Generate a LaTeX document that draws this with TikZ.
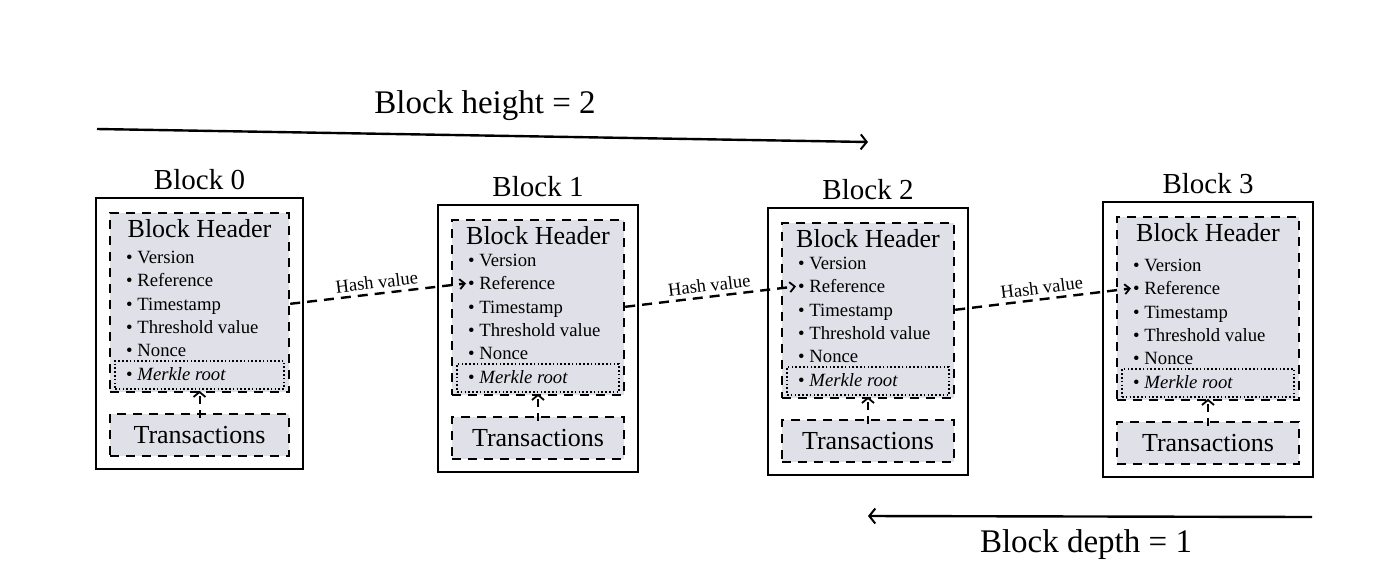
\documentclass[tikz,border=0pt]{standalone}
\usepackage{fontspec}
\setmainfont{Liberation Serif}
\usetikzlibrary{arrows.meta,calc}
\definecolor{hdrfill}{RGB}{224,224,232}
\tikzset{
  x=1pt, y=-1pt,
  outerbox/.style={draw=black, line width=2pt, rectangle, inner sep=0pt},
  dashbox/.style={draw=black, line width=2.4pt, dash pattern=on 9pt off 7pt, fill=hdrfill, rectangle, inner sep=0pt},
  dotbox/.style={draw=black, line width=1.6pt, dash pattern=on 1.6pt off 2.2pt, rectangle, inner sep=0pt},
  itemtxt/.style={anchor=west, inner sep=0pt, text height=12.5pt, text depth=0pt, font=\fontsize{18.7}{18.7}\selectfont},
  blocktitle/.style={inner sep=0pt, font=\fontsize{29}{29}\selectfont},
  hdrtitle/.style={inner sep=0pt, font=\fontsize{26}{26}\selectfont},
  txtitle/.style={inner sep=0pt, font=\fontsize{26}{26}\selectfont},
  mrarrow/.style={draw=black, line width=2pt, dash pattern=on 8pt off 6pt, -{Straight Barb[length=5pt,width=12pt,line width=1.8pt]}},
  hasharrow/.style={draw=black, line width=2.4pt, dash pattern=on 10pt off 7pt, -{Straight Barb[length=5pt,width=10pt,line width=1.8pt]}},
  hashlbl/.style={inner sep=4pt, font=\fontsize{18.5}{18.5}\selectfont},
  longarrow/.style={draw=black, line width=2.4pt, -{Straight Barb[length=6pt,width=15pt,line width=2pt]}},
  biglbl/.style={inner sep=0pt, font=\fontsize{33}{33}\selectfont},
}
% #1 name, #2 title, #3 L, #4 T, #5 R, #6 B
\newcommand{\bcblock}[6]{%
  \pgfmathsetmacro\bcx{(#3+#5)/2}%
  \pgfmathsetmacro\bcw{#5-#3}%
  \pgfmathsetmacro\bch{#6-#4}%
  \pgfmathsetmacro\hdh{(#6-77)-(#4+15)}%
  \node[outerbox, minimum width=\bcw pt, minimum height=\bch pt] (#1) at (\bcx,{(#4+#6)/2}) {};
  \node[blocktitle] (#1-title) at (\bcx,{#4-18}) {#2};
  \node[dashbox, minimum width={(\bcw-28)*1pt}, minimum height=\hdh pt] (#1-hdr) at (\bcx,{((#4+15)+(#6-77))/2}) {};
  \node[dotbox, minimum width={(\bcw-38)*1pt}, minimum height=28pt] (#1-mbox) at (\bcx,{#6-94}) {};
  \node[dashbox, minimum width={(\bcw-28)*1pt}, minimum height=42pt] (#1-tx) at (\bcx,{#6-34}) {};
  \node[txtitle] (#1-txt) at (\bcx,{#6-34}) {Transactions};
  \node[hdrtitle] (#1-htitle) at (\bcx,{#4+31}) {Block Header};
  \node[itemtxt] (#1-ver) at ({#3+30},{#6-212}) {\textbullet\ Version};
  \node[itemtxt] (#1-ref) at ({#3+30},{#6-188.6}) {\textbullet\ Reference};
  \node[itemtxt] (#1-ts)  at ({#3+30},{#6-165.2}) {\textbullet\ Timestamp};
  \node[itemtxt] (#1-thr) at ({#3+30},{#6-141.8}) {\textbullet\ Threshold value};
  \node[itemtxt] (#1-non) at ({#3+30},{#6-118.4}) {\textbullet\ Nonce};
  \node[itemtxt] (#1-mr)  at ({#3+30},{#6-95}) {\textbullet\ \textit{Merkle root}};
  \draw[mrarrow] ([yshift=-5pt]#1-tx.north) -- ([yshift=-1pt]#1-mbox.south);
}
\begin{document}
\begin{tikzpicture}
\useasboundingbox (0,0) rectangle (1400,574);
\fill[white] (0,0) rectangle (1400,574);

\bcblock{b0}{Block 0}{96}{198}{303}{469}
\bcblock{b1}{Block 1}{438}{205}{638}{472}
\bcblock{b2}{Block 2}{768}{208}{968}{475}
\bcblock{b3}{Block 3}{1103}{202}{1313}{477}

\draw[hasharrow] (b0-hdr.east |- b0-ts.west) -- node[hashlbl, sloped, above] (h01) {Hash value} ([xshift=-2pt]b1-ref.west);
\draw[hasharrow] (b1-hdr.east |- b1-ts.west) -- node[hashlbl, sloped, above] (h12) {Hash value} ([xshift=-2pt]b2-ref.west);
\draw[hasharrow] (b2-hdr.east |- b2-ts.west) -- node[hashlbl, sloped, above] (h23) {Hash value} ([xshift=-2pt]b3-ref.west);

\coordinate (hs) at (97,129);
\coordinate (he) at (868,142);
\draw[longarrow] (hs) -- (he);
\node[biglbl] (hlbl) at (485,106) {Block height = 2};

\coordinate (ds) at (1312,517);
\coordinate (de) at (868,516);
\draw[longarrow] (ds) -- (de);
\node[biglbl] (dlbl) at (1086,545) {Block depth = 1};
\end{tikzpicture}
\end{document}
